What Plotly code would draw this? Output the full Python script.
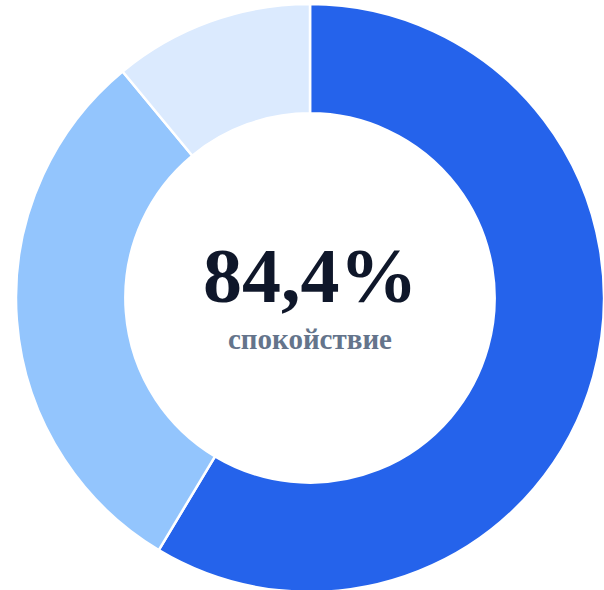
import plotly.graph_objects as go

labels = ["спокойствие", "нейтрально", "тревога"]
values = [58.6, 30.4, 11.0]
colors = ["#2563eb", "#93c5fd", "#dbeafe"]
center_value = "84,4%"
center_label = "спокойствие"

fig = go.Figure(go.Pie(
    labels=labels,
    values=values,
    hole=0.628,
    sort=False,
    direction="clockwise",
    rotation=0,
    marker=dict(colors=colors, line=dict(color="white", width=2.5)),
    textinfo="none",
    hoverinfo="label+percent",
    showlegend=False,
))

fig.add_annotation(text=f"<b>{center_value}</b>", x=0.5, y=0.539, xref="paper", yref="paper",
                   showarrow=False, font=dict(family="Liberation Serif", size=78, color="#0f172a"))
fig.add_annotation(text=f"<b>{center_label}</b>", x=0.5, y=0.431, xref="paper", yref="paper",
                   showarrow=False, font=dict(family="Liberation Serif", size=29, color="#64748b"))

fig.update_layout(
    width=620, height=596,
    margin=dict(l=16, r=16, t=4, b=4),
    paper_bgcolor="white", plot_bgcolor="white",
)
fig.write_html("out.html", config={"displayModeBar": False},
               post_script="document.body.style.margin='0';")
